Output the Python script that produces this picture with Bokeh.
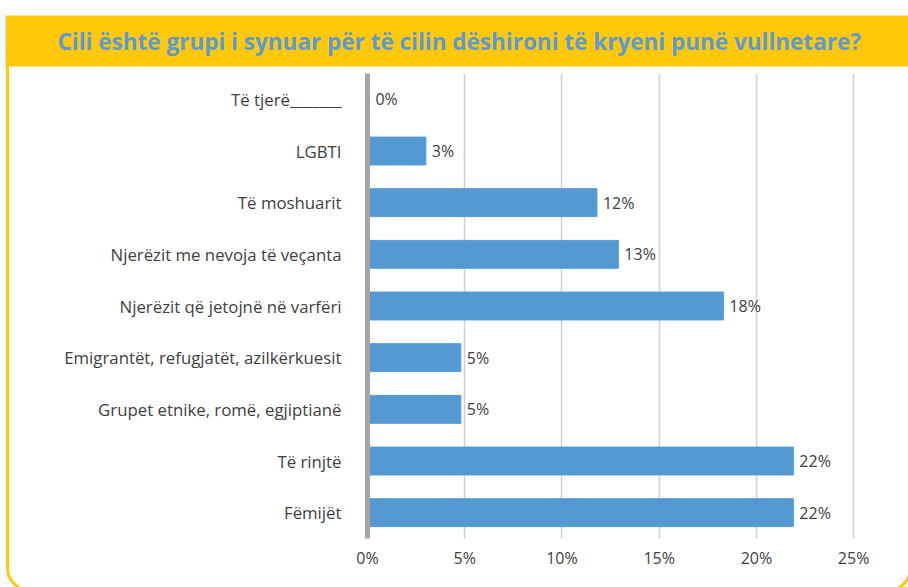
from bokeh.plotting import figure
from bokeh.models import (ColumnDataSource, FactorRange, Range1d, FixedTicker,
                          PrintfTickFormatter, LabelSet, InlineStyleSheet)
from bokeh.core.properties import value
from bokeh.embed import file_html
from bokeh.resources import INLINE

title_text = "Cili është grupi i synuar për të cilin dëshironi të kryeni punë vullnetare?"
categories = [
    "Të tjerë_______",
    "LGBTI",
    "Të moshuarit",
    "Njerëzit me nevoja të veçanta",
    "Njerëzit që jetojnë në varfëri",
    "Emigrantët, refugjatët, azilkërkuesit",
    "Grupet etnike, romë, egjiptianë",
    "Të rinjtë",
    "Fëmijët",
]
values = [0.1, 3.0, 11.8, 12.9, 18.3, 4.8, 4.8, 21.9, 21.9]
labels = ["0%", "3%", "12%", "13%", "18%", "5%", "5%", "22%", "22%"]
x_ticks = [0, 5, 10, 15, 20, 25]

FONT = "Open Sans"
TXT = "#404040"
BLUE = "#5599D2"
YELLOW = "#FFC80B"

src = ColumnDataSource(dict(cat=categories, val=values, lab=labels))

W, H = 908, 587
p = figure(width=W, height=H, output_backend="svg", toolbar_location=None,
           y_range=FactorRange(*list(reversed(categories))),
           x_range=Range1d(0, 25.2))
p.min_border_left = 367
p.min_border_right = 51
p.min_border_top = 73
p.min_border_bottom = 49
p.outline_line_color = None
p.background_fill_color = "white"
p.border_fill_color = "white"

# title on a yellow header band
p.title.text = title_text
p.title.align = "left"
p.title.vertical_align = "top"
p.title.offset = -362
p.title.standoff = 10
p.title.text_font = FONT
p.title.text_font_style = "bold"
p.title.text_font_size = "22.5px"
p.title.text_color = "#5B9BD5"
p.title.background_fill_color = YELLOW
p.title.padding = (52, 10)

# rounded yellow frame around the chart (CSS decoration); its top edge hides in the band
p.stylesheets = [InlineStyleSheet(css="""
:host { position: relative; overflow: hidden; }
:host::after {
  content: ""; position: absolute; pointer-events: none;
  left: 6px; top: 28px; width: 906px; height: 564px;
  border: 3px solid #FFC80B; border-radius: 24px; box-sizing: border-box;
}
""")]

p.hbar(y="cat", right="val", height=0.54, source=src, color=BLUE)

lbls = LabelSet(x="val", y="cat", text="lab", source=src, x_offset=6,
                text_baseline="middle", text_font=value(FONT),
                text_font_size="16px", text_color=TXT)
p.add_layout(lbls)

p.xgrid.ticker = FixedTicker(ticks=x_ticks)
p.xgrid.grid_line_color = "#CFCFCF"
p.xgrid.grid_line_width = 1.5
p.ygrid.grid_line_color = None

p.xaxis.ticker = FixedTicker(ticks=x_ticks)
p.xaxis.formatter = PrintfTickFormatter(format="%d%%")
p.xaxis.axis_line_color = None
p.xaxis.major_tick_line_color = None
p.xaxis.major_tick_out = 0
p.xaxis.minor_tick_line_color = None
p.xaxis.minor_tick_out = 0
p.xaxis.major_label_standoff = 8
p.xaxis.major_label_text_font = FONT
p.xaxis.major_label_text_font_size = "16px"
p.xaxis.major_label_text_color = TXT

p.yaxis.axis_line_color = "#A6A6A6"
p.yaxis.axis_line_width = 5
p.yaxis.major_tick_line_color = None
p.yaxis.major_tick_out = 0
p.yaxis.minor_tick_line_color = None
p.yaxis.minor_tick_out = 0
p.yaxis.major_label_standoff = 26
p.yaxis.major_label_text_font = FONT
p.yaxis.major_label_text_font_size = "16.8px"
p.yaxis.major_label_text_color = TXT

open("out.html", "w").write(file_html(p, INLINE))
